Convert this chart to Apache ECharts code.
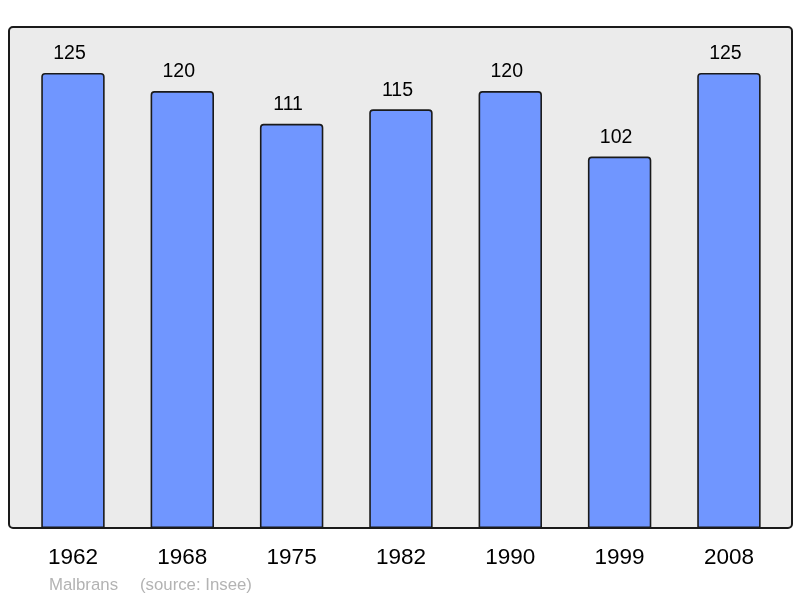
<!DOCTYPE html>
<html><head><meta charset="utf-8">
<script src="https://cdn.jsdelivr.net/npm/echarts@6/dist/echarts.min.js"></script>
<style>html,body{margin:0;padding:0;background:#fff}#c{width:800px;height:598px}</style>
</head><body><div id="c"></div>
<script>
const years = ['1962','1968','1975','1982','1990','1999','2008'];
const population = [125,120,111,115,120,102,125];
const footerName = 'Malbrans';
const footerSource = '(source: Insee)';

const chart = echarts.init(document.getElementById('c'), null, {renderer:'canvas'});
chart.setOption({
  animation:false,
  backgroundColor:'#ffffff',
  graphic:[
    {type:'rect', z:-10, shape:{x:9,y:27,width:783,height:501,r:4}, style:{fill:'#ebebeb',stroke:'#1a1a1a',lineWidth:2}},
    {type:'text', left:49, top:577, style:{text:footerName, fill:'#b3b3b3', font:'16.8px "Liberation Sans", Arial, sans-serif'}},
    {type:'text', left:140, top:577, style:{text:footerSource, fill:'#b3b3b3', font:'16.8px "Liberation Sans", Arial, sans-serif'}}
  ],
  grid:{left:18.3, right:16.4, top:27, bottom:70, containLabel:false},
  xAxis:{type:'category', data:years, axisLine:{show:false}, axisTick:{show:false},
    axisLabel:{color:'#000', fontSize:22.5, fontFamily:'"Liberation Sans", Arial, sans-serif', margin:18}},
  yAxis:{type:'value', min:0, max:137.6, show:false, splitLine:{show:false}},
  series:[{type:'bar', data:population, barWidth:'58%',
    itemStyle:{color:'#7096ff', borderColor:'#1a1a1a', borderWidth:1.6, borderRadius:[3,3,0,0]},
    labelLine:{show:false},
    label:{show:true, position:'top', distance:11, offset:[-3.5,2], color:'#000', fontSize:19.5, fontFamily:'"Liberation Sans", Arial, sans-serif'}
  }]
});
</script></body></html>
